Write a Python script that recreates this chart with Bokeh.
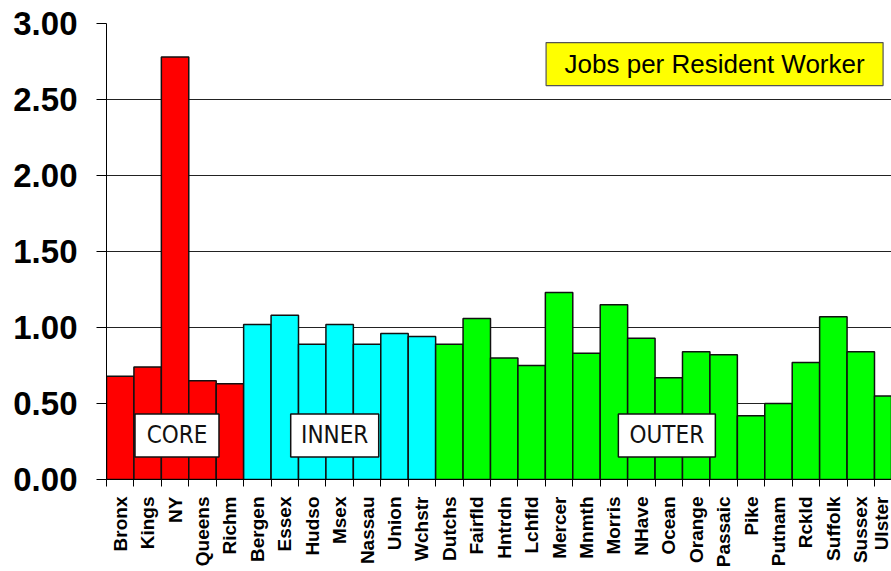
import math
from bokeh.plotting import figure
from bokeh.models import Range1d, FixedTicker, NumeralTickFormatter, ColumnDataSource
from bokeh.core.properties import value
from bokeh.embed import file_html
from bokeh.resources import INLINE

counties = ["Bronx", "Kings", "NY", "Queens", "Richm",
            "Bergen", "Essex", "Hudso", "Msex", "Nassau", "Union", "Wchstr",
            "Dutchs", "Fairfld", "Hntrdn", "Lchfld", "Mercer", "Mnmth", "Morris",
            "NHave", "Ocean", "Orange", "Passaic", "Pike", "Putnam", "Rckld",
            "Suffolk", "Sussex", "Ulster"]
jobs_per_worker = [0.68, 0.74, 2.78, 0.65, 0.63,
                   1.02, 1.08, 0.89, 1.02, 0.89, 0.96, 0.94,
                   0.89, 1.06, 0.80, 0.75, 1.23, 0.83, 1.15,
                   0.93, 0.67, 0.84, 0.82, 0.42, 0.50, 0.77,
                   1.07, 0.84, 0.55]
ring = ["CORE"] * 5 + ["INNER"] * 7 + ["OUTER"] * 17
ring_names = ["CORE", "INNER", "OUTER"]
ring_colors = {"CORE": "#FF0000", "INNER": "#00FFFF", "OUTER": "#00FF00"}
y_ticks = [0.0, 0.5, 1.0, 1.5, 2.0, 2.5, 3.0]
chart_label = "Jobs per Resident Worker"

# annotation placement (data coords) and box sizes (screen px)
ring_label_x = [2.57, 8.32, 20.43]
ring_label_y = 0.29
ring_box_w = [84, 88, 97]
ring_box_h = 43
legend_x, legend_y, legend_w, legend_h = 22.17, 2.733, 337, 43

n = len(counties)
centers = [i + 0.5 for i in range(n)]

p = figure(width=891, height=571, x_range=Range1d(0, 28.62), y_range=Range1d(0, 3),
           output_backend="svg", toolbar_location=None,
           min_border_left=106, min_border_right=0, min_border_top=23, min_border_bottom=92)
p.outline_line_color = None
p.background_fill_color = "white"
p.xgrid.visible = False
p.ygrid.ticker = FixedTicker(ticks=y_ticks)
p.ygrid.grid_line_color = "#222222"
p.ygrid.grid_line_width = 1

src = ColumnDataSource(dict(x=centers, top=jobs_per_worker,
                            color=[ring_colors[r] for r in ring]))
p.vbar(x="x", top="top", width=1, bottom=0, fill_color="color",
       line_color="#111111", line_width=1.5, source=src)

# y axis
ya = p.yaxis[0]
ya.ticker = FixedTicker(ticks=y_ticks)
ya.formatter = NumeralTickFormatter(format="0.00")
ya.major_tick_out = 10
ya.major_tick_in = 0
ya.minor_tick_out = 0
ya.minor_tick_in = 0
ya.major_label_standoff = 19
ya.major_label_text_font = "Liberation Sans"
ya.major_label_text_font_style = "bold"
ya.major_label_text_font_size = "33px"
ya.major_label_text_color = "black"
ya.axis_line_color = "black"
ya.major_tick_line_color = "black"

# x axis
xa = p.xaxis[0]
xa.ticker = FixedTicker(ticks=centers, minor_ticks=list(range(n + 1)))
xa.major_label_overrides = {c: name for c, name in zip(centers, counties)}
xa.major_tick_out = 0
xa.major_tick_in = 0
xa.minor_tick_out = 7
xa.minor_tick_in = 0
xa.minor_tick_line_color = "black"
xa.major_label_orientation = math.pi / 2
xa.major_label_standoff = 10
xa.major_label_text_font = "Liberation Sans"
xa.major_label_text_font_style = "bold"
xa.major_label_text_font_size = "19px"
xa.major_label_text_color = "black"
xa.axis_line_color = "black"

# ring labels
p.rect(x=ring_label_x, y=[ring_label_y] * 3, width=ring_box_w, height=ring_box_h,
       width_units="screen", height_units="screen",
       fill_color="white", line_color="#111111", line_width=1.5)
p.text(x=ring_label_x, y=[ring_label_y] * 3, text=ring_names,
       text_align="center", text_baseline="middle",
       text_font=value("'DejaVu Sans Condensed', 'Roboto Condensed', 'Liberation Sans', sans-serif"),
       text_font_size="24px", text_color="#111111")

# title box
p.rect(x=[legend_x], y=[legend_y], width=legend_w, height=legend_h,
       width_units="screen", height_units="screen",
       fill_color="#FFFF00", line_color="#555555", line_width=1.2)
p.text(x=[legend_x], y=[legend_y], text=[chart_label],
       text_align="center", text_baseline="middle",
       text_font=value("Liberation Sans"), text_font_size="26px",
       text_color="black")

open("out.html", "w").write(file_html(p, INLINE))
